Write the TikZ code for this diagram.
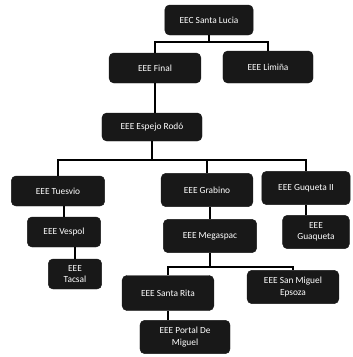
\documentclass[tikz,border=0pt]{standalone}
\usepackage{fontspec}
\setmainfont{Carlito}
\usetikzlibrary{positioning, calc}
\definecolor{boxblack}{RGB}{24,24,24}

\begin{document}
\begin{tikzpicture}[
  x=0.03cm, y=-0.03cm,
  box/.style={rectangle, rounded corners=4pt, draw=boxblack, fill=boxblack, text=white,
              minimum width=2.8cm, minimum height=0.9cm, align=center, font=\footnotesize,
              inner sep=2pt},
  link/.style={line width=1.1pt, color=black},
]
  \useasboundingbox (0,0) rectangle (352,357);

  \node[box, minimum width=2.65cm] (lucia)  at (209,20)  {EEC Santa Lucia};
  \node[box, minimum width=2.75cm] (final)  at (155,68)  {EEE Final};
  \node[box, minimum width=2.7cm, minimum height=0.96cm] (limina) at (268,67) {EEE Limiña};
  \node[box, minimum width=3cm, minimum height=0.84cm]   (espejo) at (152,127) {EEE Espejo Rodó};

  \node[box, minimum width=2.8cm] (tues)  at (58,191)  {EEE Tuesvio};
  \node[box, minimum width=2.2cm] (vesp)  at (64,232)  {EEE Vespol};
  \node[box, minimum width=1.6cm] (tacsal) at (75,274) {EEE\\Tacsal};

  \node[box, minimum width=2.75cm, minimum height=1cm] (grab) at (207,190) {EEE Grabino};
  \node[box, minimum width=2.8cm, minimum height=1cm]  (mega) at (210,236) {EEE Megaspac};
  \node[box, minimum width=2.65cm, minimum height=1cm] (guq)  at (306,188) {EEE Guqueta II};
  \node[box, minimum width=2cm, minimum height=1cm]    (guaq) at (316,232) {EEE\\Guaqueta};

  \node[box, minimum width=2.75cm, minimum height=1.05cm] (rita)   at (168,293) {EEE Santa Rita};
  \node[box, minimum width=2.75cm, minimum height=1cm]    (miguel) at (293,287) {EEE San Miguel\\Epsoza};
  \node[box, minimum width=2.7cm, minimum height=1cm]     (portal) at (185,337) {EEE Portal De\\Miguel};

  % buses
  \coordinate (bus1) at (209,42);
  \coordinate (bus2) at (152,160);
  \coordinate (bus3) at (210,267);

  \draw[link] (lucia.south) -- (bus1);
  \draw[link] (final.north) |- (bus1) -| (limina.north);
  \draw[link] (final.south) -- (final.south |- espejo.north);

  \draw[link] (espejo.south) -- (bus2);
  \draw[link] (tues.north) |- (bus2) -| (guq.north);
  \draw[link] (grab.north) -- (grab.north |- bus2);

  \draw[link] (vesp.north) -- (vesp.north |- tues.south);
  \draw[link] (tacsal.north) -- (tacsal.north |- vesp.south);
  \draw[link] (mega.north) -- (mega.north |- grab.south);
  \draw[link] (guaq.north -| guq.south) -- (guq.south);

  \draw[link] (mega.south) -- (bus3);
  \draw[link] (rita.north) |- (bus3) -| (miguel.north);
  \draw[link] (portal.north -| rita.south) -- (rita.south);
\end{tikzpicture}
\end{document}
